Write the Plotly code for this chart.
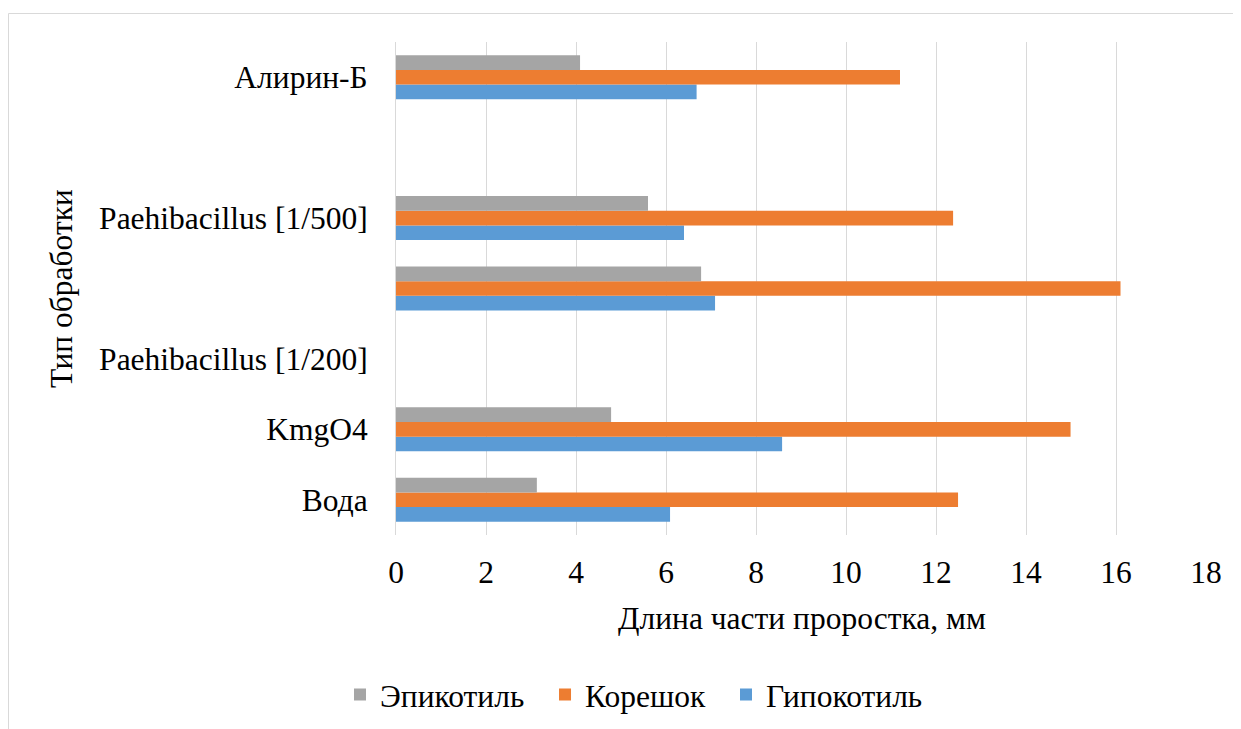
import plotly.graph_objects as go

# Category slots (bottom to top) as shown on the axis
categories = ["Вода", "KmgO4", "Paehibacillus [1/200]", " ", "Paehibacillus [1/500]", "  ", "Алирин-Б"]
# Slots that carry bars
bar_categories = ["Вода", "KmgO4", " ", "Paehibacillus [1/500]", "Алирин-Б"]

hypocotyl = [6.09, 8.58, 7.09, 6.40, 6.68]   # Гипокотиль
root = [12.49, 14.99, 16.10, 12.38, 11.20]    # Корешок
epicotyl = [3.13, 4.78, 6.78, 5.60, 4.09]     # Эпикотиль

series_names = ["Гипокотиль", "Корешок", "Эпикотиль"]
x_ticks = [0, 2, 4, 6, 8, 10, 12, 14, 16, 18]

FONT = "Times New Roman, Liberation Serif, DejaVu Serif, serif"
FS = 31.5
OFF = 8  # page body margin
W, H = 1241 - OFF, 729 - OFF
PL, PR, PT, PB = 396, 1206, 42, 535  # plot area in page pixels
L, T = PL - OFF, PT - OFF
R = 1241 - PR
B = 729 - PB
pw, ph = PR - PL, PB - PT

NB = "\u00a0\u00a0"  # legend spacing

fig = go.Figure()
fig.add_trace(go.Bar(y=bar_categories, x=hypocotyl, orientation="h", name=series_names[0],
                     marker=dict(color="#5B9BD5", line=dict(width=0))))
fig.add_trace(go.Bar(y=bar_categories, x=root, orientation="h", name=series_names[1] + NB,
                     marker=dict(color="#ED7D31", line=dict(width=0))))
fig.add_trace(go.Bar(y=bar_categories, x=epicotyl, orientation="h", name=series_names[2] + NB,
                     marker=dict(color="#A5A5A5", line=dict(width=0))))

def px_x(p):
    return (p - PL) / pw

def px_y(p):
    return (PB - p) / ph

fig.update_layout(
    width=W, height=H,
    margin=dict(l=L, r=R, t=T, b=B, autoexpand=False),
    paper_bgcolor="white", plot_bgcolor="white",
    barmode="group", bargap=0.375, bargroupgap=0,
    font=dict(family=FONT, size=FS, color="#000000"),
    showlegend=True,
    legend=dict(orientation="h", traceorder="reversed",
                x=px_x(340), xanchor="left", y=px_y(694.5), yanchor="middle",
                font=dict(family=FONT, size=FS, color="#000000"),
                itemwidth=30, tracegroupgap=0, bgcolor="rgba(0,0,0,0)"),
    xaxis=dict(range=[0, 18], tickvals=x_ticks, showgrid=True, gridcolor="#D9D9D9", gridwidth=1,
               zeroline=False, showline=False, ticks="", ticklabelstandoff=15,
               tickfont=dict(family=FONT, size=FS, color="#000000"), fixedrange=True),
    yaxis=dict(type="category", categoryorder="array", categoryarray=categories,
               range=[-0.5, len(categories) - 0.5],
               showgrid=False, zeroline=False, showline=True, linecolor="#D9D9D9", linewidth=1,
               ticks="", ticklabelstandoff=21,
               tickfont=dict(family=FONT, size=FS, color="#000000"), fixedrange=True),
    shapes=[dict(type="rect", xref="paper", yref="paper",
                 x0=px_x(8.5), x1=px_x(1260), y0=px_y(760), y1=px_y(13.5),
                 line=dict(color="#D9D9D9", width=1), fillcolor="rgba(0,0,0,0)", layer="below")],
    annotations=[
        dict(text="Длина части проростка, мм", xref="paper", yref="paper",
             x=px_x(802), y=px_y(618), xanchor="center", yanchor="middle", showarrow=False,
             font=dict(family=FONT, size=FS, color="#000000")),
        dict(text="Тип обработки", xref="paper", yref="paper",
             x=px_x(61), y=px_y(289), xanchor="center", yanchor="middle", showarrow=False,
             textangle=-90, font=dict(family=FONT, size=FS, color="#000000")),
    ],
)

fig.write_html("out.html")
